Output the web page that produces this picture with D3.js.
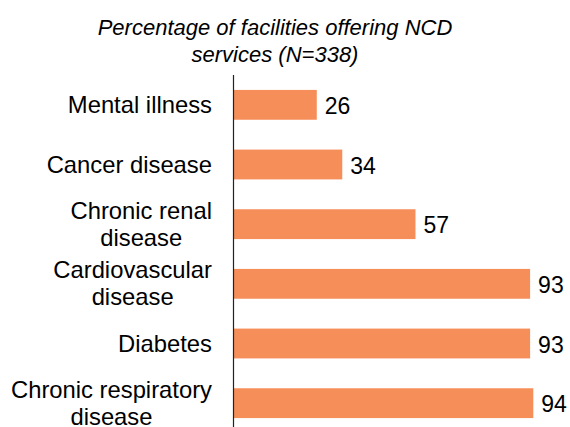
<!DOCTYPE html>
<html>
<head>
<meta charset="utf-8">
<script src="https://cdn.jsdelivr.net/npm/d3@7"></script>
<style>
  html, body { margin: 0; padding: 0; background: #fff; }
  svg { display: block; font-family: "Liberation Sans", Arial, sans-serif; }
</style>
</head>
<body>
<svg id="chart" width="570" height="427"></svg>
<script>
// NCD services offered by facilities, percent of N=338
const categories = [
  ["Mental illness"],
  ["Cancer disease"],
  ["Chronic renal", "disease"],
  ["Cardiovascular", "disease"],
  ["Diabetes"],
  ["Chronic respiratory", "disease"]
];
const values = [26, 34, 57, 93, 93, 94];
const titleLines = ["Percentage of facilities offering NCD", "services (N=338)"];

const svg = d3.select("#chart");
const barColor = "#F68E59";
const labelSize = 23.8;
const valueSize = 23;
const lineH = 26.7;

const keys = categories.map(c => c.join(" "));
const x = d3.scaleLinear().domain([0, 100]).range([234, 552.4]);
const y = d3.scaleBand().domain(keys).range([75, 433]).paddingInner(0.5).paddingOuter(0.25);

// Title
svg.append("text")
  .attr("x", 275)
  .attr("y", 35)
  .attr("text-anchor", "middle")
  .attr("font-style", "italic")
  .attr("font-size", 22)
  .attr("fill", "#000")
  .selectAll("tspan")
  .data(titleLines)
  .join("tspan")
  .attr("x", 275)
  .attr("dy", (d, i) => i === 0 ? 0 : 27)
  .text(d => d);

// Bars
svg.append("g")
  .selectAll("rect")
  .data(values)
  .join("rect")
  .attr("x", x(0))
  .attr("y", (d, i) => y(keys[i]))
  .attr("width", d => x(d) - x(0))
  .attr("height", y.bandwidth())
  .attr("fill", barColor);

// Value labels
svg.append("g")
  .selectAll("text")
  .data(values)
  .join("text")
  .attr("x", d => x(d) + 8)
  .attr("y", (d, i) => y(keys[i]) + y.bandwidth() / 2 + 9)
  .attr("font-size", valueSize)
  .attr("fill", "#000")
  .text(d => d);

// Category axis line
svg.append("line")
  .attr("x1", 233.5).attr("x2", 233.5)
  .attr("y1", y.range()[0]).attr("y2", y.range()[1])
  .attr("stroke", "#222")
  .attr("stroke-width", 1.2);

// Category labels: block right-aligned, lines centred within block
const labelRight = 212;
const labels = svg.append("g").attr("font-size", labelSize).attr("fill", "#000");
categories.forEach((lines, i) => {
  const cy = y(keys[i]) + y.bandwidth() / 2;
  const g = labels.append("g");
  const texts = lines.map((ln, j) => g.append("text")
    .attr("y", cy + 8 - (lines.length - 1) * lineH / 2 + j * lineH)
    .attr("text-anchor", "middle")
    .text(ln));
  const widths = texts.map(t => t.node().getComputedTextLength());
  const blockW = d3.max(widths);
  texts.forEach(t => t.attr("x", labelRight - blockW / 2));
});
</script>
</body>
</html>
